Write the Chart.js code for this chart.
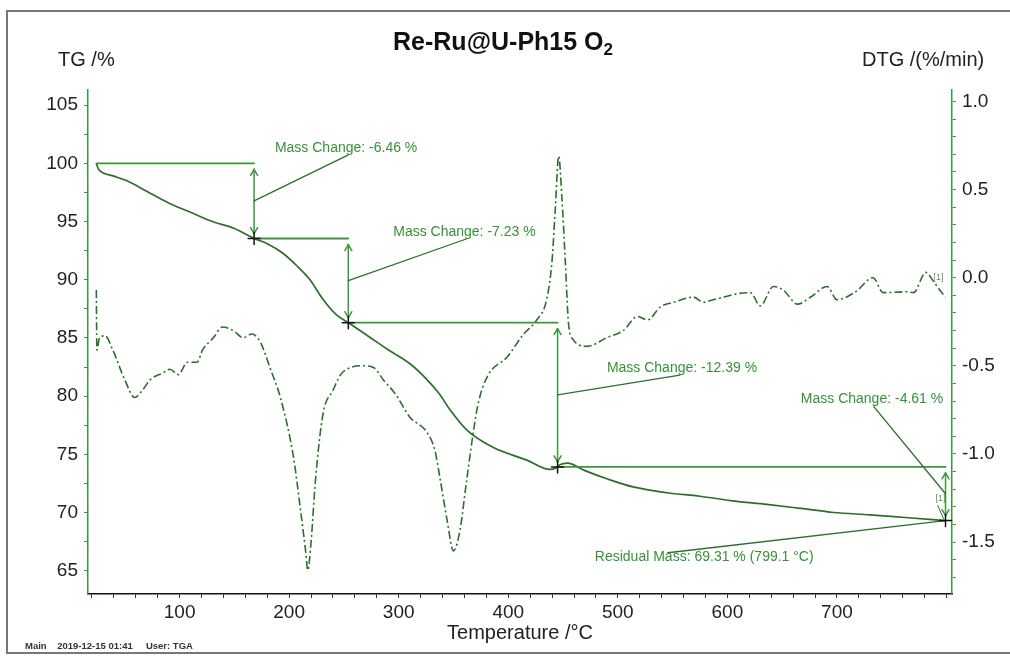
<!DOCTYPE html>
<html>
<head>
<meta charset="utf-8">
<script src="https://cdn.jsdelivr.net/npm/chart.js@4/dist/chart.umd.min.js"></script>
<style>
  html, body { margin: 0; padding: 0; background: #fff; }
  canvas { display: block; }
</style>
</head>
<body>
<canvas id="tgaChart" width="1010" height="657"></canvas>
<script>
// TG curve: temperature (°C) and mass (%)
const tgTemp = [24, 26, 30, 40, 52, 70, 90, 110, 130, 150, 168, 180, 194, 207, 219, 231, 243, 254,
  270, 290, 310, 326, 337, 347, 362, 386, 417, 438, 443, 447, 454, 470, 490, 514, 545, 575,
  605, 636, 667, 697, 730, 765, 799.1];
const tgMass = [100.0, 99.5, 99.2, 98.9, 98.5, 97.6, 96.6, 95.8, 95.0, 94.4, 93.54, 93.1, 92.3, 91.2, 90.0, 88.3, 87.0, 86.31,
  85.3, 84.0, 82.8, 81.4, 80.2, 78.8, 77.1, 75.6, 74.5, 73.7, 73.8, 74.1, 74.25, 73.6, 72.9, 72.2, 71.7, 71.4,
  71.0, 70.7, 70.35, 70.0, 69.8, 69.55, 69.31];

// DTG curve: temperature (°C) and rate (%/min)
const dtgTemp = [24, 24.5, 27, 32, 39, 50, 59, 66, 73, 85, 91, 99, 107, 116, 121, 131, 139, 149, 158, 166, 174,
  183, 192, 204, 210, 215, 217, 220, 224, 231, 240, 247, 256, 267, 277, 286, 297, 310, 326, 333, 338, 344,
  350, 356, 362, 372, 381, 399, 414, 426, 435, 440, 443, 446, 449, 452, 455, 459, 472, 490, 505, 518, 527,
  539, 551, 569, 578, 587, 597, 610, 621, 630, 642, 651, 664, 676, 691, 700, 717, 733, 742, 764, 770, 781,
  788, 795, 799];
const dtgRate = [-0.07, -0.41, -0.34, -0.33, -0.41, -0.58, -0.68, -0.64, -0.58, -0.54, -0.52, -0.55, -0.48, -0.48, -0.41, -0.34, -0.28, -0.30, -0.34, -0.32, -0.37,
  -0.52, -0.68, -1.02, -1.30, -1.55, -1.66, -1.50, -1.15, -0.77, -0.64, -0.55, -0.51, -0.50, -0.51, -0.58, -0.66, -0.79, -0.88, -0.98, -1.15, -1.37,
  -1.55, -1.43, -1.15, -0.73, -0.56, -0.45, -0.32, -0.24, -0.125, 0.10, 0.40, 0.69, 0.45, 0.10, -0.26, -0.35, -0.39, -0.34, -0.30, -0.22, -0.24,
  -0.165, -0.14, -0.11, -0.14, -0.125, -0.11, -0.09, -0.085, -0.16, -0.05, -0.07, -0.15, -0.11, -0.05, -0.125, -0.08, 0.0, -0.085, -0.08, -0.085, 0.03,
  -0.02, -0.08, -0.11];

// mass loss steps
const stepTemp = [24, 168, 254, 445, 799.1];
const stepMass = [100, 93.54, 86.31, 73.92, 69.31];
const massChange = [-6.46, -7.23, -12.39, -4.61];
const residualMass = 69.31;
const residualTemp = 799.1;

// axis ranges and labelled ticks
const tempRange = [16.4, 805];
const tgRange = [63, 106.3];
const dtgRange = [-1.795, 1.065];
const tempLabels = [100, 200, 300, 400, 500, 600, 700];

const FONT = '"Liberation Sans", Arial, sans-serif';
const curveGreen = 'rgb(45,110,45)';
const markGreen = 'rgb(60,150,60)';
const textGreen = 'rgb(55,145,55)';

const frame = {
  id: 'frame',
  beforeDraw(chart) {
    const ctx = chart.ctx;
    ctx.save();
    ctx.fillStyle = '#fff';
    ctx.fillRect(0, 0, chart.width, chart.height);
    ctx.strokeStyle = '#777';
    ctx.lineWidth = 2;
    ctx.strokeRect(7, 11, chart.width + 10, 642);
    ctx.restore();
  },
  afterDraw(chart) {
    const {ctx, chartArea} = chart;
    ctx.save();
    ctx.fillStyle = '#111';
    ctx.textBaseline = 'middle';

    // title with subscript
    ctx.font = 'bold 25px ' + FONT;
    const main = 'Re-Ru@U-Ph15 O';
    const w = ctx.measureText(main).width;
    ctx.font = 'bold 17px ' + FONT;
    const sw = ctx.measureText('2').width;
    const x0 = 503 - (w + sw) / 2;
    ctx.font = 'bold 25px ' + FONT;
    ctx.textAlign = 'left';
    ctx.fillText(main, x0, 43);
    ctx.font = 'bold 17px ' + FONT;
    ctx.fillText('2', x0 + w, 50);

    ctx.font = '20px ' + FONT;
    ctx.fillStyle = '#222';
    ctx.fillText('TG /%', 58, 60);
    ctx.fillText('DTG /(%/min)', 862, 60);

    ctx.textAlign = 'center';
    ctx.fillText('Temperature /°C', (chartArea.left + chartArea.right) / 2, 633);

    ctx.font = 'bold 9.5px ' + FONT;
    ctx.textAlign = 'left';
    ctx.fillStyle = '#333';
    ctx.fillText('Main    2019-12-15 01:41     User: TGA', 25, 646);
    ctx.restore();
  }
};

// mass-change labels, placed in temperature / mass coordinates
const labelSpots = [
  {t: 187, m: 101.3},
  {t: 295, m: 94.1},
  {t: 490, m: 82.4},
  {t: 667, m: 79.7}
];
const residualSpot = {t: 479, m: 66.2};

const annotations = {
  id: 'annotations',
  afterDatasetsDraw(chart) {
    const {ctx, scales} = chart;
    const px = t => scales.x.getPixelForValue(t);
    const py = m => scales.y.getPixelForValue(m);
    const py2 = r => scales.y2.getPixelForValue(r);

    const seg = (x1, y1, x2, y2) => {
      ctx.beginPath(); ctx.moveTo(x1, y1); ctx.lineTo(x2, y2); ctx.stroke();
    };
    const head = (x, y, dir) => {
      seg(x - 3.5, y + 6 * dir, x, y);
      seg(x + 3.5, y + 6 * dir, x, y);
    };

    ctx.save();
    ctx.lineCap = 'round';
    ctx.font = '14px ' + FONT;
    ctx.textBaseline = 'middle';
    ctx.textAlign = 'left';

    for (let i = 0; i < massChange.length; i++) {
      const xa = px(stepTemp[i + 1]);
      const yTop = py(stepMass[i]);
      const yBot = py(stepMass[i + 1]);
      ctx.strokeStyle = markGreen;
      ctx.lineWidth = 1.8;
      // level before the step
      seg(px(stepTemp[i]), yTop, xa, yTop);
      // double arrow spanning the step
      ctx.lineWidth = 1.5;
      seg(xa, yTop + 6, xa, yBot - 5);
      head(xa, yTop + 6, 1);
      head(xa, yBot - 5, -1);
      // leader to the label
      const yMid = py((stepMass[i] + stepMass[i + 1]) / 2);
      const lx = px(labelSpots[i].t);
      const ly = py(labelSpots[i].m);
      ctx.strokeStyle = curveGreen;
      ctx.lineWidth = 1.3;
      seg(xa, yMid, lx + 73, ly + 7);
      ctx.fillStyle = textGreen;
      ctx.fillText('Mass Change: ' + massChange[i].toFixed(2) + ' %', lx, ly);
    }

    // residual mass
    const rx = px(residualTemp), ry = py(residualMass);
    const tx = px(residualSpot.t), ty = py(residualSpot.m);
    ctx.strokeStyle = curveGreen;
    ctx.lineWidth = 1.3;
    seg(rx, ry, tx + 73, ty - 4);
    ctx.fillStyle = textGreen;
    ctx.fillText('Residual Mass: ' + residualMass.toFixed(2) + ' % (' + residualTemp.toFixed(1) + ' °C)', tx, ty);

    // step markers
    ctx.strokeStyle = '#111';
    ctx.lineWidth = 1.5;
    for (let i = 1; i < stepTemp.length; i++) {
      const x = px(stepTemp[i]), y = py(stepMass[i]);
      seg(x - 6, y, x + 6, y);
      seg(x, y - 6, x, y + 6);
    }

    // curve tags
    ctx.font = '9px ' + FONT;
    ctx.fillStyle = '#6a8a6a';
    ctx.fillText('[1]', px(788), py2(0.0));
    ctx.fillText('[1]', px(790), py(71.2));
    ctx.strokeStyle = curveGreen;
    ctx.lineWidth = 1;
    seg(px(792), py(70.6), rx - 2, ry - 2);
    ctx.restore();
  }
};

const tickFont = {family: FONT, size: 19};

new Chart(document.getElementById('tgaChart'), {
  type: 'scatter',
  data: {
    datasets: [
      {
        label: 'TG',
        data: tgTemp.map((t, i) => ({x: t, y: tgMass[i]})),
        yAxisID: 'y',
        showLine: true,
        borderColor: curveGreen,
        borderWidth: 1.7,
        pointRadius: 0,
        cubicInterpolationMode: 'monotone'
      },
      {
        label: 'DTG',
        data: dtgTemp.map((t, i) => ({x: t, y: dtgRate[i]})),
        yAxisID: 'y2',
        showLine: true,
        borderColor: curveGreen,
        borderWidth: 1.6,
        borderDash: [8, 3, 2, 3],
        pointRadius: 0,
        cubicInterpolationMode: 'monotone'
      }
    ]
  },
  options: {
    responsive: false,
    animation: false,
    layout: {padding: {top: 90, left: 0, right: 0, bottom: 0}},
    plugins: {
      legend: {display: false},
      tooltip: {enabled: false}
    },
    scales: {
      x: {
        type: 'linear',
        min: tempRange[0],
        max: tempRange[1],
        afterFit: s => { s.height = 63; },
        border: {color: '#111', width: 1.5},
        grid: {drawOnChartArea: false, tickLength: 4, color: '#333'},
        ticks: {
          stepSize: 20,
          includeBounds: false,
          autoSkip: false,
          maxRotation: 0,
          padding: 3,
          color: '#222',
          font: tickFont,
          callback: v => (tempLabels.includes(v) ? v : '')
        }
      },
      y: {
        position: 'left',
        min: tgRange[0],
        max: tgRange[1],
        afterFit: s => { s.width = 88; },
        border: {color: markGreen, width: 1.5},
        grid: {drawOnChartArea: false, tickLength: 4, color: markGreen},
        ticks: {
          stepSize: 2.5,
          includeBounds: false,
          autoSkip: false,
          padding: 6,
          color: '#222',
          font: tickFont,
          callback: v => (v % 5 === 0 ? v : '')
        }
      },
      y2: {
        position: 'right',
        min: dtgRange[0],
        max: dtgRange[1],
        afterFit: s => { s.width = 58; },
        border: {color: markGreen, width: 1.5},
        grid: {drawOnChartArea: false, tickLength: 4, color: markGreen},
        ticks: {
          stepSize: 0.1,
          includeBounds: false,
          autoSkip: false,
          padding: 6,
          color: '#222',
          font: tickFont,
          callback: v => (Math.abs(v * 2 - Math.round(v * 2)) < 1e-6 ? v.toFixed(1) : '')
        }
      }
    }
  },
  plugins: [frame, annotations]
});
</script>
</body>
</html>
